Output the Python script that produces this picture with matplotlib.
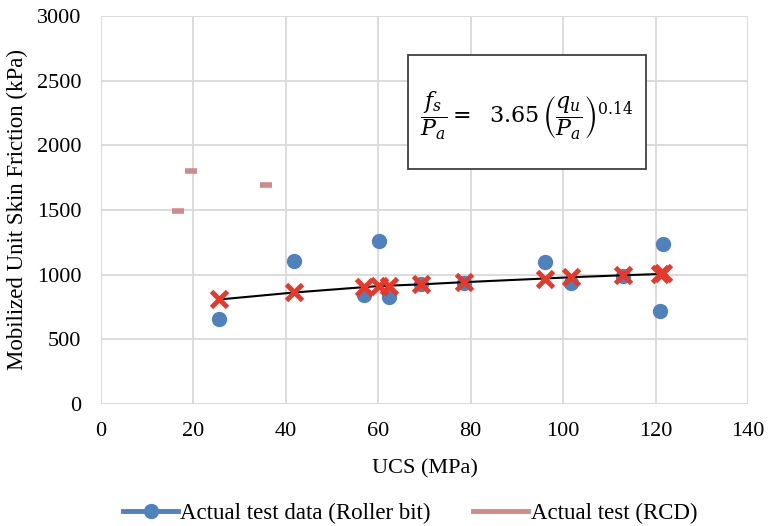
import matplotlib
matplotlib.use('Agg')
import matplotlib.pyplot as plt
from matplotlib.patches import Rectangle

plt.rcParams['font.family'] = 'Liberation Serif'
plt.rcParams['mathtext.fontset'] = 'dejavuserif'

# Actual test data (Roller bit)
ucs_roller = [25.6, 41.8, 56.8, 60.2, 62.4, 69.3, 78.6, 96.0, 101.7, 112.9, 121.0, 121.7]
fs_roller = [657, 1108, 843, 1258, 827, 930, 938, 1096, 938, 990, 719, 1235]

# Actual test (RCD)
ucs_rcd = [16.6, 19.4, 35.7]
fs_rcd = [1490, 1804, 1691]

# Predicted (equation)
ucs_pred = [25.6, 41.8, 56.8, 60.2, 62.4, 69.3, 78.6, 96.0, 101.7, 112.9, 121.0, 121.7]
fs_pred = [808, 862, 903, 912, 915, 925, 942, 970, 980, 995, 1005, 1010]

blue = '#4F81BD'
rcd = '#D08A8A'
red = '#E8382A'

fig = plt.figure(figsize=(7.68, 5.26), dpi=100)
ax = fig.add_axes([0.1315, 0.232, 0.8425, 0.7376])

ax.plot(ucs_pred, fs_pred, color='black', lw=1.5, zorder=3)
ax.plot(ucs_roller, fs_roller, 'o', color=blue, ms=10, zorder=2)
ax.plot(ucs_rcd, fs_rcd, '_', color=rcd, ms=9, mew=4, zorder=2)
ax.plot(ucs_pred, fs_pred, 'x', color=red, ms=11, mew=3.5, zorder=4)

# legend proxies
h1, = ax.plot([], [], '-o', color=blue, lw=3.5, ms=10, label='Actual test data (Roller bit)')
h2, = ax.plot([], [], '-', color=rcd, lw=3.5, label='Actual test (RCD)')
fig.legend(handles=[h1, h2], loc='center', bbox_to_anchor=(0.534, 0.024), ncol=2,
           frameon=False, fontsize=16.5, handlelength=2.4, columnspacing=1.85,
           handletextpad=0.1)

ax.set_xlim(0, 140)
ax.set_ylim(0, 3000)
ax.set_xticks(range(0, 141, 20))
ax.set_yticks(range(0, 3001, 500))
ax.grid(True, color='#D9D9D9', lw=1.3)
ax.set_axisbelow(True)
for s in ax.spines.values():
    s.set_visible(False)
ax.tick_params(axis='y', length=0, labelsize=16, pad=14)
ax.tick_params(axis='x', length=0, labelsize=16, pad=13)
ax.set_xlabel('UCS (MPa)', fontsize=16, labelpad=13)
ax.set_ylabel('Mobilized Unit Skin Friction (kPa)', fontsize=16.5)
ax.yaxis.set_label_coords(-0.113, 0.5)

# equation box
ax.add_patch(Rectangle((66.5, 1817), 51.5, 882, facecolor='white', edgecolor='#404040',
                       lw=1.3, zorder=5))
ax.text(92.0, 2230, r'$\dfrac{f_s}{P_a} =\ \ 3.65\,\left(\dfrac{q_u}{P_a}\right)^{0.14}$',
        ha='center', va='center', fontsize=16, zorder=6)

plt.savefig('out.png', dpi=100)
